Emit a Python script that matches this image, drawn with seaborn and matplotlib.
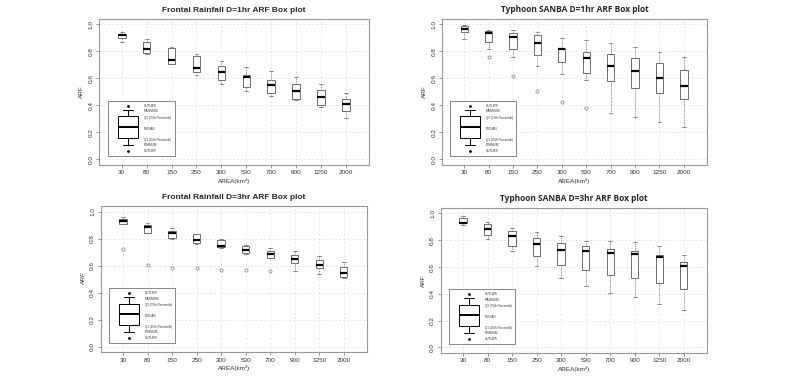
import matplotlib
matplotlib.use("Agg")
import matplotlib.pyplot as plt
import seaborn as sns
import pandas as pd

areas = ["30", "80", "150", "250", "300", "530", "700", "900", "1250", "2000"]

# five-number summaries (lower whisker, Q1, median, Q3, upper whisker)
f1_lo = [0.873, 0.780, 0.707, 0.624, 0.558, 0.506, 0.472, 0.442, 0.389, 0.310]
f1_q1 = [0.900, 0.790, 0.710, 0.648, 0.587, 0.536, 0.490, 0.447, 0.406, 0.360]
f1_med = [0.922, 0.820, 0.733, 0.680, 0.646, 0.609, 0.552, 0.506, 0.462, 0.408]
f1_q3 = [0.930, 0.866, 0.826, 0.767, 0.694, 0.628, 0.587, 0.555, 0.516, 0.450]
f1_hi = [0.945, 0.888, 0.833, 0.780, 0.726, 0.685, 0.653, 0.611, 0.558, 0.494]
f1_out_area = []
f1_out_val = []

t1_lo = [0.892, 0.819, 0.760, 0.693, 0.636, 0.590, 0.347, 0.317, 0.280, 0.238]
t1_q1 = [0.941, 0.870, 0.821, 0.774, 0.723, 0.642, 0.580, 0.531, 0.494, 0.445]
t1_med = [0.966, 0.934, 0.907, 0.865, 0.819, 0.752, 0.690, 0.653, 0.605, 0.546]
t1_q3 = [0.985, 0.948, 0.939, 0.922, 0.826, 0.799, 0.782, 0.752, 0.715, 0.659]
t1_hi = [0.995, 0.956, 0.956, 0.946, 0.897, 0.885, 0.863, 0.833, 0.793, 0.760]
t1_out_area = ["80", "150", "250", "300", "530"]
t1_out_val = [0.757, 0.620, 0.504, 0.423, 0.381]

f3_lo = [0.906, 0.842, 0.800, 0.763, 0.731, 0.684, 0.654, 0.558, 0.541, 0.511]
f3_q1 = [0.911, 0.844, 0.802, 0.768, 0.736, 0.696, 0.659, 0.617, 0.580, 0.514]
f3_med = [0.931, 0.889, 0.840, 0.788, 0.741, 0.714, 0.684, 0.652, 0.605, 0.543]
f3_q3 = [0.948, 0.899, 0.857, 0.830, 0.788, 0.746, 0.709, 0.677, 0.640, 0.590]
f3_hi = [0.960, 0.916, 0.877, 0.837, 0.798, 0.753, 0.731, 0.704, 0.674, 0.625]
f3_out_area = ["30", "80", "150", "250", "300", "530", "700"]
f3_out_val = [0.726, 0.605, 0.583, 0.580, 0.568, 0.565, 0.560]

t3_lo = [0.912, 0.813, 0.718, 0.610, 0.515, 0.455, 0.410, 0.373, 0.328, 0.283]
t3_q1 = [0.928, 0.838, 0.755, 0.680, 0.615, 0.575, 0.538, 0.515, 0.478, 0.433]
t3_med = [0.932, 0.883, 0.830, 0.773, 0.730, 0.718, 0.708, 0.695, 0.675, 0.605]
t3_q3 = [0.968, 0.922, 0.868, 0.820, 0.780, 0.755, 0.735, 0.718, 0.690, 0.635]
t3_hi = [0.978, 0.933, 0.890, 0.860, 0.828, 0.798, 0.793, 0.785, 0.760, 0.693]
t3_out_area = []
t3_out_val = []

# schematic box used in the little key
leg_vals = [0.11, 0.16, 0.24, 0.32, 0.37]
leg_out = [0.40, 0.065]
leg_labels = ["OUTLIER", "MAXIMUM", "Q3 (75th Percentile)", "MEDIAN",
              "Q1 (25th Percentile)", "MINIMUM", "OUTLIER"]
leg_label_pos = [0.91, 0.81, 0.69, 0.50, 0.30, 0.20, 0.10]

sns.set_style("white")
plt.rcParams['font.family'] = ['Liberation Sans', 'DejaVu Sans']


def to_long(lo, q1, med, q3, hi):
    rows = []
    for i, a in enumerate(areas):
        for v in (lo[i], q1[i], med[i], q3[i], hi[i]):
            rows.append({"area": a, "arf": v})
    return pd.DataFrame(rows)


def draw_key(ax):
    ins = ax.inset_axes([0.032, 0.06, 0.248, 0.378])
    sns.boxplot(y=leg_vals, ax=ins, whis=(0, 100), width=0.66, showfliers=False,
                color="white", linecolor="black", linewidth=0.7,
                medianprops={"color": "black", "linewidth": 1.4})
    sns.stripplot(y=leg_out, ax=ins, jitter=False, color="black", size=2)
    ins.set_ylim(0.024, 0.435)
    ins.set_xlim(-0.66, 1.54)
    ins.set_xticks([])
    ins.set_yticks([])
    ins.set_xlabel("")
    ins.set_ylabel("")
    for s in ins.spines.values():
        s.set_color("#888888")
        s.set_linewidth(0.7)
    for lab, yp in zip(leg_labels, leg_label_pos):
        ins.text(0.54, yp, lab, transform=ins.transAxes, fontsize=2.2,
                 va="center", ha="left", color="#333333")


def panel(rect, title, stats, out_area, out_val, title_font, ylab_style="normal"):
    ax = fig.add_axes(rect)
    df = to_long(*stats)
    sns.boxplot(data=df, x="area", y="arf", order=areas, ax=ax, whis=(0, 100),
                width=0.3, showfliers=False, color="white", linecolor="#555555",
                linewidth=0.6,
                whiskerprops={"linestyle": (0, (1.5, 1.2)), "color": "#888888"},
                capprops={"color": "#777777"},
                medianprops={"color": "black", "linewidth": 1.6})
    if out_val:
        sns.stripplot(x=out_area, y=out_val, order=areas, ax=ax, jitter=False,
                      color="white", edgecolor="#777777", linewidth=0.5, size=2.3)
    ax.set_xlim(-0.91, 9.94)
    ax.set_ylim(-0.04, 1.04)
    ax.set_yticks([0.0, 0.2, 0.4, 0.6, 0.8, 1.0])
    ax.set_yticklabels(["0.0", "0.2", "0.4", "0.6", "0.8", "1.0"], rotation=90,
                       va="center")
    ax.grid(True, color="#dddddd", linestyle=(0, (3, 3)), linewidth=0.5)
    ax.set_axisbelow(True)
    ax.tick_params(axis="both", labelsize=4.6, length=2.5, width=0.5,
                   color="#666666", pad=1.5, left=True, bottom=True,
                   labelcolor="#333333")
    for s in ax.spines.values():
        s.set_color("#999999")
        s.set_linewidth(0.8)
    ax.set_xlabel("AREA(km²)", fontsize=4.6, labelpad=2, color="#333333")
    ax.set_ylabel("ARF", fontsize=4.6, labelpad=3, color="#333333",
                  style=ylab_style)
    ax.set_title(title, fontsize=6, fontweight="bold", pad=5,
                 family=title_font)
    draw_key(ax)
    return ax


fig = plt.figure(figsize=(8, 3.79), dpi=100)

panel([0.124, 0.565, 0.3375, 0.385], "Frontal Rainfall D=1hr ARF Box plot",
      (f1_lo, f1_q1, f1_med, f1_q3, f1_hi), f1_out_area, f1_out_val,
      ["Liberation Sans", "DejaVu Sans"])
panel([0.5525, 0.565, 0.331, 0.385], "Typhoon SANBA D=1hr ARF Box plot",
      (t1_lo, t1_q1, t1_med, t1_q3, t1_hi), t1_out_area, t1_out_val,
      ["Open Sans", "DejaVu Sans"])
panel([0.126, 0.0712, 0.3325, 0.385], "Frontal Rainfall D=3hr ARF Box plot",
      (f3_lo, f3_q1, f3_med, f3_q3, f3_hi), f3_out_area, f3_out_val,
      ["Liberation Sans", "DejaVu Sans"], ylab_style="italic")
panel([0.551, 0.069, 0.3325, 0.382], "Typhoon SANBA D=3hr ARF Box plot",
      (t3_lo, t3_q1, t3_med, t3_q3, t3_hi), t3_out_area, t3_out_val,
      ["Open Sans", "DejaVu Sans"])

fig.savefig("out.png", dpi=100)
